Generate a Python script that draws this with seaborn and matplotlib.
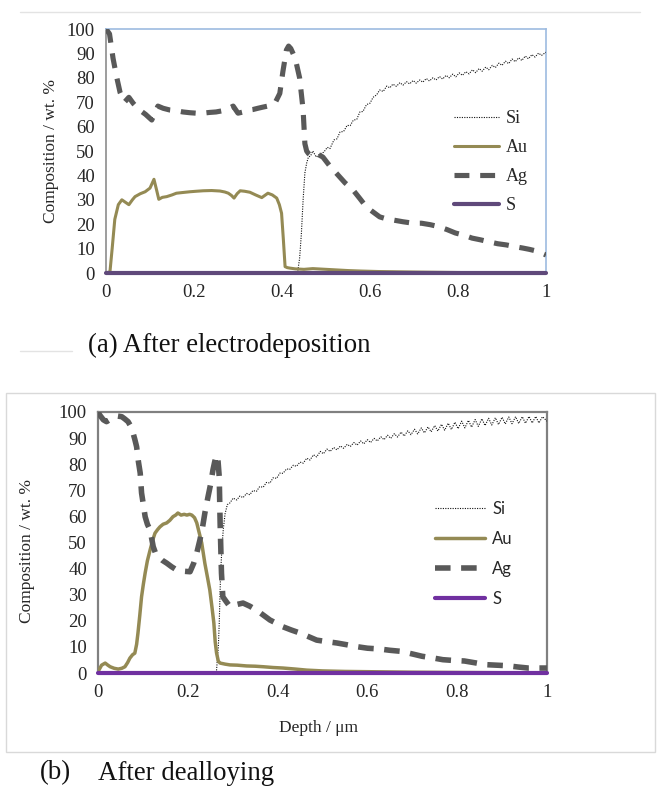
import numpy as np
import pandas as pd
import matplotlib
matplotlib.use("Agg")
import matplotlib.pyplot as plt
from matplotlib.lines import Line2D
from matplotlib.patches import Rectangle
import seaborn as sns

# ---------------- data: (a) after electrodeposition ----------------
si_a_x = [0.436, 0.44, 0.444, 0.448, 0.452, 0.456, 0.46, 0.465, 0.47, 0.478, 0.486, 0.495, 0.503, 0.509,
          0.518, 0.525, 0.532, 0.54, 0.548, 0.555, 0.562, 0.57, 0.577, 0.584, 0.592, 0.6, 0.607, 0.615,
          0.622, 0.63, 0.638, 0.645, 0.652, 0.66, 0.668, 0.675, 0.683, 0.69, 0.698, 0.705, 0.713, 0.72,
          0.728, 0.735, 0.743, 0.75, 0.758, 0.765, 0.773, 0.78, 0.788, 0.795, 0.803, 0.81, 0.818, 0.825,
          0.833, 0.84, 0.848, 0.855, 0.863, 0.87, 0.878, 0.885, 0.893, 0.9, 0.908, 0.915, 0.923, 0.93,
          0.938, 0.945, 0.953, 0.96, 0.968, 0.975, 0.983, 0.99, 1.0]
si_a_y = [1, 6, 16, 30, 41, 45, 47.5, 48, 50, 47.5, 48.8, 49.5, 51.5, 51, 54.5, 55, 57.8, 58, 60.5, 60.4,
          62.6, 63, 66, 66.2, 69, 69.6, 72, 73, 75, 74.4, 76.6, 75.9, 77.4, 76.5, 78, 77, 78.4, 77.5, 78.9,
          77.8, 79.1, 78.2, 79.7, 78.7, 80, 79.1, 80.5, 79.5, 81, 80, 81.5, 80.4, 82, 81, 82.5, 81.6, 83.3,
          82.1, 83.8, 82.7, 84.4, 83.3, 85.1, 84.2, 86, 85.1, 86.8, 85.8, 87.7, 86.6, 88.2, 87.1, 88.9,
          87.8, 89.5, 88.5, 90.1, 89.2, 90.5]

au_a_x = [0.0, 0.009, 0.014, 0.02, 0.028, 0.036, 0.044, 0.052, 0.06, 0.066, 0.078, 0.089, 0.1, 0.109,
          0.115, 0.12, 0.128, 0.138, 0.15, 0.16, 0.175, 0.191, 0.205, 0.221, 0.24, 0.259, 0.27, 0.278,
          0.285, 0.291, 0.298, 0.305, 0.315, 0.327, 0.34, 0.354, 0.361, 0.368, 0.378, 0.388, 0.394, 0.399,
          0.403, 0.407, 0.412, 0.418, 0.43, 0.45, 0.47, 0.49, 0.51, 0.53, 0.55, 0.58, 0.62, 0.66, 0.7,
          0.75, 0.8, 0.9, 1.0]
au_a_y = [0.0, 0.5, 10, 22, 28, 30, 29, 28, 30, 31.3, 32.5, 33.3, 34.8, 38.4, 34, 30.2, 31, 31.3, 32,
          32.7, 33, 33.3, 33.5, 33.7, 33.8, 33.6, 33.2, 32.7, 31.8, 30.7, 32.5, 33.7, 33.5, 33.1, 32, 30.9,
          31.8, 32.7, 32, 30.7, 28, 24.5, 14, 2.6, 2.2, 2.0, 1.7, 1.5, 1.8, 1.6, 1.4, 1.2, 1.0, 0.8, 0.6,
          0.5, 0.4, 0.3, 0.2, 0.1, 0.1]

ag_a_x = [0.0, 0.008, 0.016, 0.024, 0.032, 0.042, 0.052, 0.062, 0.075, 0.09, 0.104, 0.112, 0.118, 0.13,
          0.145, 0.16, 0.175, 0.19, 0.205, 0.22, 0.235, 0.25, 0.265, 0.28, 0.289, 0.30, 0.312, 0.325,
          0.334, 0.345, 0.357, 0.37, 0.384, 0.395, 0.402, 0.41, 0.415, 0.42, 0.425, 0.43, 0.44, 0.448,
          0.452, 0.456, 0.46, 0.467, 0.474, 0.483, 0.493, 0.508, 0.524, 0.543, 0.562, 0.577, 0.592, 0.607,
          0.622, 0.637, 0.653, 0.675, 0.698, 0.717, 0.737, 0.756, 0.775, 0.794, 0.813, 0.832, 0.851, 0.87,
          0.89, 0.91, 0.929, 0.948, 0.962, 0.976, 0.988, 1.0]
ag_a_y = [100, 98, 88, 80.5, 74, 70, 72, 69.5, 67, 65, 62.7, 66, 68.4, 67.5, 66.8, 66.5, 66, 65.7, 65.5,
          65.5, 65.8, 66, 66.5, 67.5, 68.4, 65.5, 66, 66.8, 67, 67.5, 68, 68.5, 69.6, 73.6, 82.5, 91.4, 93,
          92, 90, 88, 80, 66.8, 53, 50, 49, 48, 47.5, 48.5, 47.5, 44, 40.8, 37, 33.9, 30.5, 27, 25, 23,
          22.2, 21.7, 21, 20.4, 20.4, 19.8, 19, 17.8, 16.4, 15.5, 14.3, 13.6, 12.8, 12, 11.5, 10.8, 10.2,
          9.7, 9.1, 8.3, 7.4]

s_a_x = [0.0, 1.0]
s_a_y = [0.0, 0.0]

# ---------------- data: (b) after dealloying ----------------
si_b_x = [0.264, 0.268, 0.27, 0.273, 0.276, 0.279, 0.283, 0.288, 0.294, 0.301, 0.309, 0.316, 0.323, 0.331,
          0.338, 0.345, 0.353, 0.36, 0.368, 0.375, 0.383, 0.39, 0.398, 0.405, 0.412, 0.42, 0.427, 0.435,
          0.442, 0.45, 0.457, 0.465, 0.472, 0.48, 0.487, 0.495, 0.502, 0.51, 0.517, 0.525, 0.532, 0.54,
          0.547, 0.555, 0.562, 0.57, 0.577, 0.585, 0.592, 0.6, 0.607, 0.615, 0.622, 0.63, 0.637, 0.645,
          0.652, 0.66, 0.667, 0.675, 0.682, 0.69, 0.697, 0.705, 0.712, 0.72, 0.727, 0.735, 0.742, 0.75,
          0.757, 0.765, 0.772, 0.78, 0.787, 0.795, 0.802, 0.81, 0.817, 0.825, 0.832, 0.84, 0.847, 0.855,
          0.862, 0.87, 0.877, 0.885, 0.892, 0.9, 0.907, 0.915, 0.922, 0.93, 0.937, 0.945, 0.952, 0.96,
          0.967, 0.975, 0.982, 0.99, 1.0]
si_b_y = [1, 10, 19, 38, 48, 55, 61, 64.5, 65.2, 67, 66.3, 67.8, 67.2, 68.8, 68.3, 69.9, 69.6, 71.4, 71.2,
          73, 72.8, 74.8, 74.6, 76.6, 76.5, 78.2, 78, 79.6, 79.2, 80.8, 80.4, 82.3, 81.6, 83.6, 82.8, 84.9,
          84, 85.8, 84.9, 86.4, 85.5, 87, 86.1, 87.6, 86.8, 88.3, 87.3, 88.9, 87.8, 89.4, 88.3, 89.9, 88.9,
          90.5, 89.4, 91.1, 89.9, 91.7, 90.4, 92.3, 90.8, 92.8, 91.3, 93.4, 91.6, 93.9, 92, 94.3, 92.4,
          94.8, 92.7, 95.3, 93, 95.7, 93.3, 96.1, 93.6, 96.5, 93.9, 96.8, 94.2, 97.1, 94.5, 97.4, 94.8,
          97.6, 95, 97.8, 95.2, 98, 95.4, 98.1, 95.5, 98.2, 95.6, 98.2, 95.7, 98.3, 95.8, 98.3, 95.8, 98.2,
          96.5]

au_b_x = [0.0, 0.008, 0.016, 0.022, 0.027, 0.036, 0.045, 0.053, 0.06, 0.066, 0.071, 0.077, 0.082, 0.086,
          0.089, 0.093, 0.097, 0.101, 0.105, 0.11, 0.116, 0.122, 0.127, 0.133, 0.138, 0.145, 0.153, 0.16,
          0.167, 0.173, 0.178, 0.185, 0.192, 0.198, 0.204, 0.209, 0.215, 0.22, 0.225, 0.231, 0.238, 0.244,
          0.249, 0.254, 0.258, 0.261, 0.264, 0.268, 0.272, 0.283, 0.294, 0.31, 0.331, 0.35, 0.368, 0.39,
          0.412, 0.44, 0.465, 0.5, 0.55, 0.6, 0.65, 0.7, 0.8, 0.9, 1.0]
au_b_y = [0.5, 3, 3.8, 3, 2.4, 1.8, 1.5, 1.8, 2.4, 4, 5.7, 7, 7.6, 11, 15.3, 22, 29.2, 34, 38.3, 43,
          47.1, 51, 53.6, 55, 56, 57, 57.5, 58.5, 59.9, 60.5, 61.3, 60.5, 60.8, 60.5, 60.8, 60.5, 59.5,
          57.5, 54, 49.8, 42, 36.5, 31.8, 25, 19.2, 12, 7.7, 4.5, 3.8, 3.4, 3.1, 3.0, 2.7, 2.6, 2.4, 2.1,
          1.9, 1.5, 1.1, 0.8, 0.6, 0.5, 0.4, 0.3, 0.2, 0.1, 0.1]

ag_b_x = [0.0, 0.004, 0.012, 0.019, 0.03, 0.042, 0.053, 0.06, 0.067, 0.073, 0.078, 0.082, 0.086, 0.09,
          0.094, 0.097, 0.101, 0.105, 0.11, 0.116, 0.123, 0.128, 0.134, 0.143, 0.153, 0.164, 0.175, 0.19,
          0.205, 0.213, 0.22, 0.227, 0.233, 0.238, 0.245, 0.251, 0.256, 0.26, 0.264, 0.267, 0.27, 0.272,
          0.275, 0.278, 0.285, 0.294, 0.308, 0.323, 0.338, 0.353, 0.368, 0.383, 0.398, 0.412, 0.43, 0.45,
          0.468, 0.487, 0.51, 0.532, 0.555, 0.576, 0.6, 0.627, 0.65, 0.675, 0.7, 0.722, 0.745, 0.768,
          0.792, 0.816, 0.84, 0.863, 0.887, 0.911, 0.935, 0.958, 0.98, 1.0]
ag_b_y = [100, 98.8, 97, 96.3, 97.5, 98.5, 98.2, 97.3, 96.3, 94.5, 92, 89.5, 86.7, 81, 76.6, 69, 64.5,
          59.9, 57, 54.8, 48.4, 46, 44.6, 43.2, 42.1, 40.7, 39.5, 39, 38.8, 42, 46, 51, 56, 61.3, 67.5,
          72.5, 77.8, 81, 83.5, 82, 75.2, 57.5, 38.3, 29.2, 27.5, 25.4, 26.2, 26.8, 25.6, 24.1, 22.2, 20.3,
          19, 17.7, 16.5, 15.3, 14, 12.6, 12, 11.5, 10.8, 10.1, 9.5, 9.2, 8.7, 8.3, 7.3, 6.4, 5.8, 5.1,
          4.8, 4.6, 3.9, 3.2, 3.0, 2.8, 2.3, 1.9, 1.9, 1.9]

s_b_x = [0.0, 1.0]
s_b_y = [0.0, 0.0]

series_names = ["Si", "Au", "Ag", "S"]
x_ticks = [0, 0.2, 0.4, 0.6, 0.8, 1]
x_tick_labels = ["0", "0.2", "0.4", "0.6", "0.8", "1"]
y_ticks = [0, 10, 20, 30, 40, 50, 60, 70, 80, 90, 100]
y_tick_labels = [str(v) for v in y_ticks]
ylabel_text = "Composition / wt. %"
xlabel_b = "Depth / \u03bcm"
caption_a = "(a) After electrodeposition"
caption_b1 = "(b)"
caption_b2 = "After dealloying"

# ---------------- style ----------------
sns.set_theme(style="white")
plt.rcParams["font.family"] = ["Liberation Serif", "DejaVu Serif"]

AU = "#948A54"
AG = "#595959"
SI = "#111111"
S_A = "#5F497A"
S_B = "#7030A0"
TXT = "#262626"

W, H = 662, 792
fig = plt.figure(figsize=(W / 100, H / 100), dpi=100)
fig.patch.set_facecolor("white")


def ax_rect(l, t, r, b):
    return [l / W, 1 - b / H, (r - l) / W, (b - t) / H]


def draw(ax, sx, sy, ux, uy, gx, gy, px, py, s_col, au_lw, ag_lw, ag_dash):
    sns.lineplot(x=sx, y=sy, ax=ax, color=SI, lw=0.8, linestyle=(0, (1, 1.2)),
                 label="Si", estimator=None, sort=False, zorder=3)
    sns.lineplot(x=ux, y=uy, ax=ax, color=AU, lw=au_lw, label="Au",
                 estimator=None, sort=False, zorder=4)
    sns.lineplot(x=gx, y=gy, ax=ax, color=AG, lw=ag_lw, linestyle=(0, ag_dash),
                 label="Ag", estimator=None, sort=False, zorder=5)
    sns.lineplot(x=px, y=py, ax=ax, color=s_col, lw=3.0, label="S",
                 estimator=None, sort=False, zorder=6, clip_on=False)
    ax.set_xlim(0, 1)
    ax.set_ylim(0, 100)
    ax.set_xticks(x_ticks)
    ax.set_xticklabels(x_tick_labels)
    ax.set_yticks(y_ticks)
    ax.set_yticklabels(y_tick_labels)
    ax.tick_params(length=0, labelsize=13.5, colors=TXT)
    ax.tick_params(axis="y", pad=8)
    ax.tick_params(axis="x", pad=8)
    ax.grid(False)


# ---- panel (a)
ax1 = fig.add_axes(ax_rect(106, 29, 546, 273))
draw(ax1, si_a_x, si_a_y, au_a_x, au_a_y, ag_a_x, ag_a_y, s_a_x, s_a_y,
     S_A, 2.2, 3.7, (2.9, 2.1))
for side in ["top", "right"]:
    ax1.spines[side].set_color("#9DBBE0")
    ax1.spines[side].set_linewidth(1.2)
ax1.spines["left"].set_color("#8C8C8C")
ax1.spines["left"].set_linewidth(1.2)
ax1.spines["bottom"].set_visible(False)
ax1.set_ylabel(ylabel_text, fontsize=12.5, color=TXT)
ax1.yaxis.set_label_coords(-0.106, 0.5)
h, l = ax1.get_legend_handles_labels()
ax1.legend(h, l, loc="upper left", bbox_to_anchor=(0.79, 0.667), frameon=False,
           handlelength=2.5, handletextpad=0.4, labelspacing=0.66, borderpad=0,
           borderaxespad=0, prop={"family": "Liberation Serif", "size": 13})
for t in ax1.get_legend().get_texts():
    t.set_color(TXT)

# ---- panel (b)
ax2 = fig.add_axes(ax_rect(98, 412, 547, 673))
draw(ax2, si_b_x, si_b_y, au_b_x, au_b_y, ag_b_x, ag_b_y, s_b_x, s_b_y,
     S_B, 2.5, 4.0, (2.8, 1.9))
for side in ["top", "right", "left"]:
    ax2.spines[side].set_color("#808080")
    ax2.spines[side].set_linewidth(1.6)
ax2.spines["bottom"].set_visible(False)
ax2.set_ylabel(ylabel_text, fontsize=12.5, color=TXT)
ax2.yaxis.set_label_coords(-0.14, 0.467)
ax2.set_xlabel(xlabel_b, fontsize=12.5, color=TXT)
ax2.xaxis.set_label_coords(0.49, -0.18)
h, l = ax2.get_legend_handles_labels()
ax2.legend(h, l, loc="upper left", bbox_to_anchor=(0.75, 0.66), frameon=False,
           handlelength=3.0, handletextpad=0.45, labelspacing=0.85, borderpad=0,
           borderaxespad=0, prop={"family": "Lato", "size": 12})
for t in ax2.get_legend().get_texts():
    t.set_color(TXT)

# ---- decorations
fig.add_artist(Line2D([20 / W, 640 / W], [1 - 12 / H, 1 - 12 / H], color="#E3E3E3", lw=1))
fig.add_artist(Line2D([20 / W, 72 / W], [1 - 351 / H, 1 - 351 / H], color="#E3E3E3", lw=1))
fig.add_artist(Rectangle((6 / W, 1 - 752 / H), 649 / W, 359 / H, transform=fig.transFigure,
                         fill=False, edgecolor="#D9D9D9", lw=1))

fig.text(88 / W, 1 - 345 / H, caption_a, fontsize=19.3, color="#111111", va="center", ha="left")
fig.text(40 / W, 1 - 773 / H, caption_b1, fontsize=19.3, color="#111111", va="center", ha="left")
fig.text(98 / W, 1 - 773 / H, caption_b2, fontsize=19.3, color="#111111", va="center", ha="left")

fig.savefig("out.png", dpi=100, facecolor="white")
